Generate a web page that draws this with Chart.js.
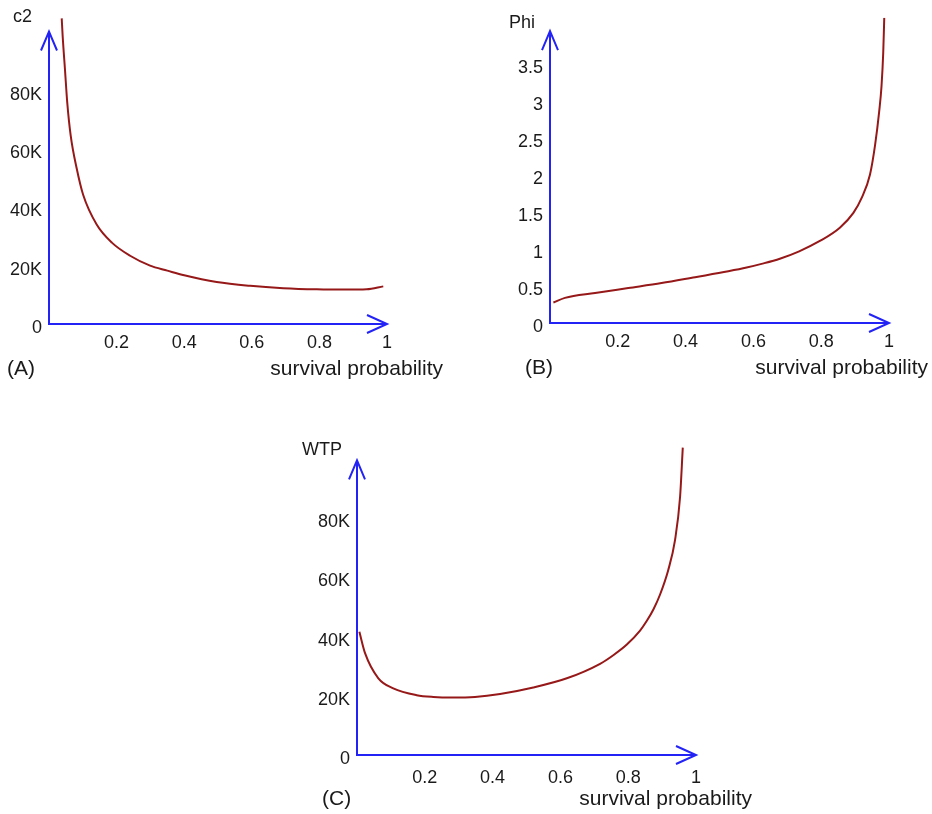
<!DOCTYPE html>
<html><head><meta charset="utf-8">
<script src="https://cdn.jsdelivr.net/npm/chart.js@4"></script>
<style>
html,body{margin:0;padding:0;background:#fff;width:932px;height:814px;overflow:hidden;position:relative;font-family:"Liberation Sans",Arial,sans-serif;color:#1a1a1a}
.box{position:absolute}
.t{position:absolute;white-space:nowrap;line-height:1}
</style></head><body>
<div class="box" style="left:0;top:0"><canvas id="cA" width="466" height="360"></canvas></div>
<div class="box" style="left:480px;top:0"><canvas id="cB" width="452" height="360"></canvas></div>
<div class="box" style="left:290px;top:420px"><canvas id="cC" width="450" height="394"></canvas></div>

<div class="t" style="left:13px;top:7px;font-size:18px">c2</div>
<div class="t" style="left:7px;top:357px;font-size:21px">(A)</div>
<div class="t" style="left:223px;width:220px;text-align:right;top:357px;font-size:21px">survival probability</div>

<div class="t" style="left:509px;top:13px;font-size:18px">Phi</div>
<div class="t" style="left:525px;top:356px;font-size:21px">(B)</div>
<div class="t" style="left:708px;width:220px;text-align:right;top:356px;font-size:21px">survival probability</div>

<div class="t" style="left:262px;width:80px;text-align:right;top:440px;font-size:18px">WTP</div>
<div class="t" style="left:322px;top:787px;font-size:21px">(C)</div>
<div class="t" style="left:532px;width:220px;text-align:right;top:787px;font-size:21px">survival probability</div>

<script>
// ---- data ----
const survA = [0.0376, 0.0405, 0.0473, 0.054, 0.0642, 0.082, 0.101, 0.141, 0.186, 0.240, 0.299, 0.35, 0.40, 0.496, 0.595, 0.693, 0.792, 0.88, 0.94, 0.989];
const c2Values = [104800, 98600, 87200, 75900, 64600, 53300, 44300, 34100, 27900, 23400, 20000, 18300, 16700, 14400, 13100, 12300, 11900, 11800, 11900, 12900];

const survB = [0.01, 0.044, 0.133, 0.231, 0.329, 0.428, 0.526, 0.58, 0.624, 0.678, 0.735, 0.796, 0.855, 0.895, 0.919, 0.944, 0.959, 0.971, 0.978, 0.983, 0.986];
const phiValues = [0.277, 0.34, 0.406, 0.473, 0.54, 0.62, 0.70, 0.75, 0.80, 0.87, 0.97, 1.11, 1.29, 1.49, 1.69, 2.01, 2.41, 2.86, 3.21, 3.66, 4.13];

const survC = [0.007, 0.024, 0.063, 0.107, 0.176, 0.225, 0.28, 0.348, 0.422, 0.52, 0.619, 0.717, 0.756, 0.796, 0.835, 0.855, 0.875, 0.894, 0.918, 0.938, 0.953, 0.961];
const wtpValues = [41600, 34300, 25900, 22500, 20200, 19600, 19400, 19600, 20600, 22800, 25900, 30800, 33700, 37300, 42000, 45300, 49300, 54200, 62400, 72500, 87100, 103800];

const xTicks = [0.2, 0.4, 0.6, 0.8, 1];
const yTicksA = [0, 20000, 40000, 60000, 80000];
const yTicksB = [0, 0.5, 1, 1.5, 2, 2.5, 3, 3.5];
const yTicksC = [0, 20000, 40000, 60000, 80000];

const fmtK = v => v === 0 ? '0' : (v / 1000) + 'K';
const fmtN = v => String(v);

// ---- drawing ----
const FONT = { family: '"Liberation Sans", Arial, sans-serif', size: 18 };
const TXT = '#1a1a1a';
const AXIS = 'rgb(35,35,245)';
const CURVE = 'rgb(150,24,24)';

const arrowAxes = {
  id: 'arrowAxes',
  beforeDatasetsDraw(chart, args, opts) {
    const { ctx, scales: { x, y } } = chart;
    const x0 = x.getPixelForValue(0), x1 = x.getPixelForValue(1);
    const y0 = y.getPixelForValue(0), y1 = y.getPixelForValue(opts.tipY);
    ctx.save();
    ctx.strokeStyle = AXIS; ctx.lineWidth = 2; ctx.lineJoin = 'miter';
    ctx.beginPath();
    ctx.moveTo(x0 - 1, y0); ctx.lineTo(x1, y0);
    ctx.moveTo(x0, y0); ctx.lineTo(x0, y1);
    ctx.stroke();
    ctx.beginPath();
    ctx.moveTo(x1 - 20, y0 - 9); ctx.lineTo(x1, y0); ctx.lineTo(x1 - 20, y0 + 9);
    ctx.moveTo(x0 - 8, y1 + 19); ctx.lineTo(x0, y1); ctx.lineTo(x0 + 8, y1 + 19);
    ctx.stroke();
    ctx.restore();
  }
};

function makeChart(id, xs, ys, yTicks, fmt, c) {
  new Chart(document.getElementById(id), {
    type: 'line',
    data: {
      datasets: [{
        data: xs.map((v, i) => ({ x: v, y: ys[i] })),
        borderColor: CURVE, borderWidth: 2, pointRadius: 0,
        cubicInterpolationMode: 'monotone', fill: false
      }]
    },
    options: {
      responsive: false, animation: false,
      layout: { padding: { left: 0, right: c.padRight, top: c.padTop, bottom: 0 } },
      plugins: { legend: { display: false }, tooltip: { enabled: false }, arrowAxes: { tipY: c.tipY } },
      scales: {
        x: {
          type: 'linear', min: 0, max: 1,
          grid: { display: false, drawTicks: false }, border: { display: false },
          afterBuildTicks: s => { s.ticks = xTicks.map(v => ({ value: v })); },
          afterFit: s => { s.height = c.xAxisH; },
          ticks: { font: FONT, color: TXT, padding: c.xPad, maxRotation: 0, autoSkip: false, callback: v => fmtN(v) }
        },
        y: {
          type: 'linear', min: 0, max: c.ymax,
          grid: { display: false, drawTicks: false }, border: { display: false },
          afterBuildTicks: s => { s.ticks = yTicks.map(v => ({ value: v })); },
          afterFit: s => { s.width = c.yAxisW; },
          ticks: { font: FONT, color: TXT, padding: 7, labelOffset: 4, autoSkip: false, callback: v => fmt(v) }
        }
      }
    },
    plugins: [arrowAxes]
  });
}

makeChart('cA', survA, c2Values, yTicksA, fmtK, { ymax: 105000, tipY: 100300, padRight: 79, padTop: 14, xAxisH: 36, yAxisW: 49, xPad: 8 });
makeChart('cB', survB, phiValues, yTicksB, fmtN, { ymax: 4.13, tipY: 3.95, padRight: 43, padTop: 15, xAxisH: 37, yAxisW: 70, xPad: 8 });
makeChart('cC', survC, wtpValues, yTicksC, fmtK, { ymax: 104000, tipY: 99500, padRight: 44, padTop: 27, xAxisH: 59, yAxisW: 67, xPad: 12 });
</script>
</body></html>
